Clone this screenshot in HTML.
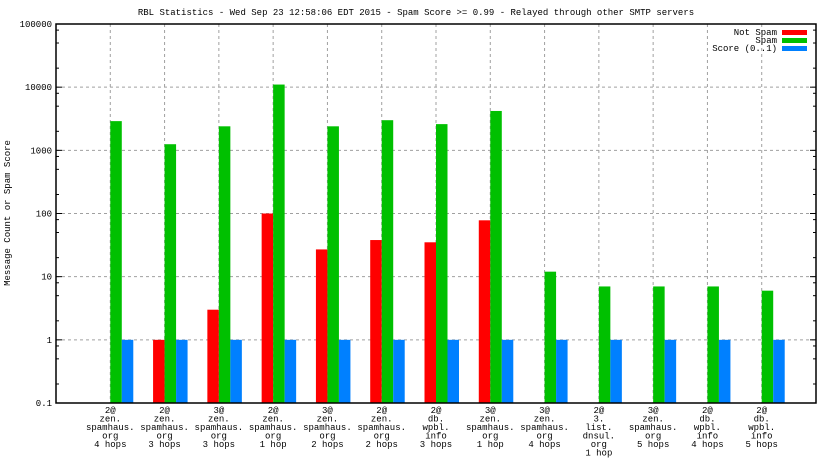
<!DOCTYPE html>
<html><head><meta charset="utf-8"><style>
body{margin:0;background:#fff}
svg text{font-family:"Liberation Mono",monospace;font-size:9px;fill:#000}
</style></head><body>
<svg id="c" width="832" height="468">
<text x="416" y="15" text-anchor="middle">RBL Statistics - Wed Sep 23 12:58:06 EDT 2015 - Spam Score &gt;= 0.99 - Relayed through other SMTP servers</text>
<text transform="translate(10,213) rotate(-90)" text-anchor="middle">Message Count or Spam Score</text>
<g id="grid"></g><g id="bars"></g><g id="axes"></g>
<g>
<text x="777" y="35" text-anchor="end">Not Spam</text>
<rect x="782" y="30" width="25" height="5" fill="#ff0000"/>
<text x="777" y="43" text-anchor="end">Spam</text>
<rect x="782" y="38" width="25" height="5" fill="#00c000"/>
<text x="777" y="51" text-anchor="end">Score (0..1)</text>
<rect x="782" y="46" width="25" height="5" fill="#0080ff"/>
</g>
</svg>
<script>
const categories=[["2@","zen.","spamhaus.","org","4 hops"],["2@","zen.","spamhaus.","org","3 hops"],["3@","zen.","spamhaus.","org","3 hops"],["2@","zen.","spamhaus.","org","1 hop"],["3@","zen.","spamhaus.","org","2 hops"],["2@","zen.","spamhaus.","org","2 hops"],["2@","db.","wpbl.","info","3 hops"],["3@","zen.","spamhaus.","org","1 hop"],["3@","zen.","spamhaus.","org","4 hops"],["2@","3.","list.","dnsul.","org","1 hop"],["3@","zen.","spamhaus.","org","5 hops"],["2@","db.","wpbl.","info","4 hops"],["2@","db.","wpbl.","info","5 hops"]];
const notSpam=[0,1,3,100,27,38,35,78,0,0,0,0,0];
const spam=[2900,1250,2400,11000,2400,3000,2600,4200,12,7,7,7,6];
const score=[1,1,1,1,1,1,1,1,1,1,1,1,1];
const yTicks=["0.1","1","10","100","1000","10000","100000"];
const NS="http://www.w3.org/2000/svg";
const L=56,R=816,T=24,B=403,minE=-1,maxE=5;
const y=v=>B-(Math.log10(v)-minE)/(maxE-minE)*(B-T);
const step=(R-L)/(categories.length+1);
const x=i=>L+step*(i+1);
const bw=11.5;
function mk(tag,at,par){const e=document.createElementNS(NS,tag);for(const k in at)e.setAttribute(k,at[k]);document.getElementById(par).appendChild(e);return e;}
yTicks.forEach((t,i)=>{const v=parseFloat(t),yy=y(v);
 if(i>0&&i<yTicks.length-1){const g=mk('line',{x1:L,x2:R,y1:yy,y2:yy,stroke:'#a0a0a0','stroke-dasharray':'3,3'},'grid');}
 const tx=mk('text',{x:L-4,y:yy+3,'text-anchor':'end'},'axes');tx.textContent=t;
 
 [0,1].forEach(s=>{const xx=s?R:L,d=s?-1:1;mk('line',{x1:xx,x2:xx+d*6,y1:yy,y2:yy,stroke:'#000'},'axes');
  if(i<yTicks.length-1)[2,5,8].forEach(m=>{const ym=y(v*m);mk('line',{x1:xx,x2:xx+d*3,y1:ym,y2:ym,stroke:'#000'},'axes');});});
});
categories.forEach((c,i)=>{const cx=x(i);
 const g=mk('line',{x1:cx,x2:cx,y1:T,y2:B,stroke:'#a0a0a0','stroke-dasharray':'3,3'},'grid');
 
 c.forEach((ln,j)=>{const t=mk('text',{x:cx,y:413+j*8.5,'text-anchor':'middle'},'axes');t.textContent=ln;
  });
 [[notSpam,'#ff0000',-bw,'bar-not-spam'],[spam,'#00c000',0,'bar-spam'],[score,'#0080ff',bw,'bar-score']].forEach(([arr,col,off,nm])=>{
  const v=arr[i];if(!(v>0.1))return;const top=y(v);
  const r=mk('rect',{x:cx+off,y:top,width:bw,height:B-top,fill:col},'bars');
  });
});
const bx=mk('rect',{x:L,y:T,width:R-L,height:B-T,fill:'none',stroke:'#000','stroke-width':1.5},'axes');

</script>
</body></html>
